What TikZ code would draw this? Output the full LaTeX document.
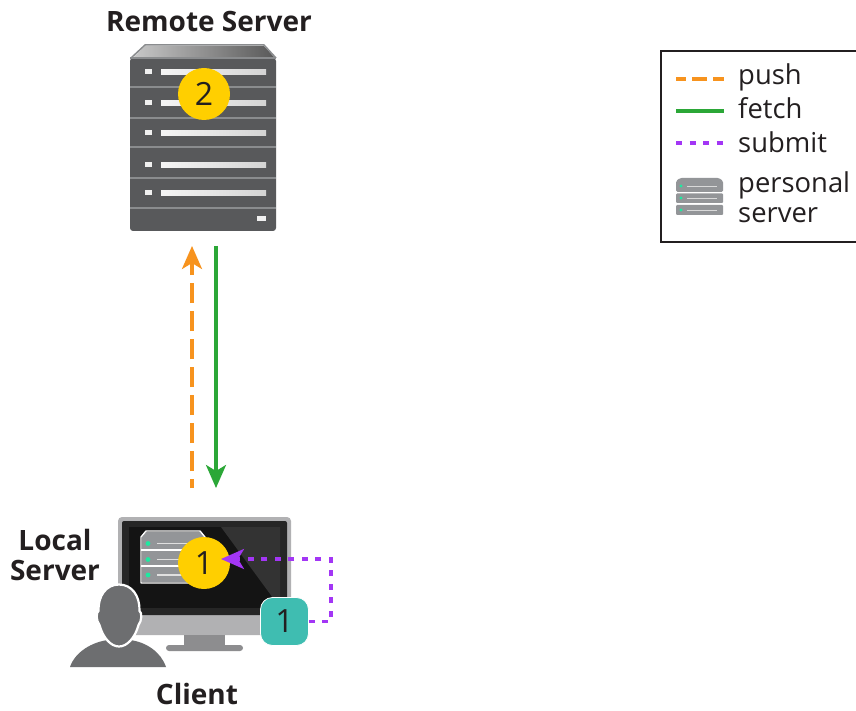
\documentclass[tikz,border=0pt]{standalone}
\usepackage{fontspec}
\setmainfont{Open Sans}
\usepackage{xcolor}
\usetikzlibrary{arrows.meta,shapes.geometric}

\definecolor{inkblack}{HTML}{231F20}
\definecolor{rackgray}{HTML}{58595B}
\definecolor{rackline}{HTML}{8A8C8E}
\definecolor{iconbody}{HTML}{939598}
\definecolor{dotgreen}{HTML}{1FE8A0}
\definecolor{badgeyellow}{HTML}{FFCF00}
\definecolor{boxteal}{HTML}{3FBDB1}
\definecolor{pushorange}{HTML}{F7931E}
\definecolor{fetchgreen}{HTML}{2BA737}
\definecolor{submitpurple}{HTML}{A336F5}
\definecolor{bezelgray}{HTML}{B1B1B3}
\definecolor{standgray}{HTML}{8D8D8F}
\definecolor{persongray}{HTML}{6D6E70}

\tikzset{
  title/.style={font=\fontsize{28}{30}\selectfont\bfseries, text=inkblack, align=center, inner sep=0pt},
  legendtext/.style={font=\fontsize{27.4}{32}\selectfont, text=inkblack, anchor=base west, inner sep=0pt},
  badge/.style={circle, fill=badgeyellow, minimum size=52pt, inner sep=0pt, font=\fontsize{32}{34}\selectfont, text=inkblack},
  tealbox/.style={rectangle, rounded corners=12pt, fill=boxteal, draw=white, line width=0.8pt, minimum size=48pt, inner sep=0pt, font=\fontsize{32}{34}\selectfont, text=inkblack},
  pushline/.style={draw=pushorange, line width=3.2pt, dash pattern=on 20pt off 8pt, dash phase=11pt},
  legendpush/.style={draw=pushorange, line width=3.2pt, dash pattern=on 15pt off 6pt, dash phase=5pt},
  fetchline/.style={draw=fetchgreen, line width=3.2pt},
  submitline/.style={draw=submitpurple, line width=3.2pt, dash pattern=on 6pt off 7.5pt},
  bigtip/.style={-{Stealth[length=23pt, width=20pt, inset=6pt]}}
}

\begin{document}
\begin{tikzpicture}[x=1pt, y=-1pt]
\useasboundingbox (0,0) rectangle (856,711);
\fill[white] (0,0) rectangle (856,711);

% remote server
\shade[left color=white!78!black, right color=black!65] (145,46) -- (264,46) -- (274,57) -- (134,57) -- cycle;
\draw[rackline, line width=1.5pt, line join=round] (131,58) -- (145,45) -- (264,45) -- (276,58);
\fill[rackgray, rounded corners=3pt] (130,58) -- (276,58) -- (276,231) -- (130,231) -- cycle;
\foreach \y in {87,118,147,178,208}
  \fill[rackline] (130,\y-1.2) rectangle (276,\y+1.2);
\fill[rackline] (130,57) rectangle (276,59);
\foreach \y in {72,103,133,165,193} {
  \fill[white!94!black] (145,\y-2.5) rectangle (152,\y+2.5);
  \shade[left color=white!96!black, right color=white!83!black] (161,\y-2.5) rectangle (266,\y+2.5);
}
\fill[white!94!black] (257,216) rectangle (266,221);
\node[title] (remotelabel) at (209,22) {Remote Server};
\node[badge] (remotebadge) at (204,94) {2};

% client
\fill[bezelgray, rounded corners=4pt] (118,517) rectangle (291,635);
\fill[black!85, rounded corners=2pt] (122,521) rectangle (287,615);
\fill[black!92] (129,527) rectangle (280,608);
\fill[black!80] (221,527) -- (280,527) -- (280,608) -- (281,608) -- (273,598) -- cycle;
\fill[standgray] (184,635) rectangle (225,645);
\fill[standgray, rounded corners=3pt] (166,645) rectangle (243,651);

% local server icon
\fill[iconbody] (146,532) -- (200,532) -- (205,537) -- (205,582) -- (142,582) -- (142,537) -- cycle;
\draw[white, line width=1.4pt, line join=round] (146,531) -- (200,531) -- (205,537) -- (205,583) -- (141,583) -- (141,537) -- cycle;
\foreach \y in {550,566}
  \draw[white, line width=1.4pt] (141,\y) -- (205,\y);
\foreach \y in {543.5,559.5,575} {
  \fill[dotgreen] (148,\y) circle (2.4);
  \draw[white!88!black, line width=1.2pt] (157,\y) -- (195,\y);
}
\node[badge] (localbadge) at (204,563) {1};

% person
\fill[persongray] (70,667) .. controls (75,652) and (92,642) .. (108,640) -- (130,640) .. controls (146,642) and (161,652) .. (166,667) -- cycle;
\draw[persongray, fill=persongray, draw=white, line width=2.2pt] (119,584.5) .. controls (132,584.5) and (140,596) .. (139.5,611) .. controls (142,612) and (142,621) .. (138.5,625) .. controls (135,638) and (127,646.5) .. (119,646.5) .. controls (111,646.5) and (103,638) .. (99.5,625) .. controls (96,621) and (96,612) .. (98.5,611) .. controls (98,596) and (106,584.5) .. (119,584.5) -- cycle;

\node[tealbox] (submitbox) at (284.5,621.5) {1};
\node[title] (locallabel) at (55,555) {Local\\Server};
\node[title] (clientlabel) at (197,694) {Client};

% push, fetch and submit
\coordinate (pushtail) at (192,488);
\coordinate (pushhead) at (192,246);
\coordinate (fetchtail) at (216,246);
\coordinate (fetchhead) at (216,488);
\coordinate (submitcorner) at (331,559);
\coordinate (submithead) at (221,559);
\draw[pushline, bigtip] (pushtail) -- (pushhead);
\draw[fetchline, bigtip] (fetchtail) -- (fetchhead);
\draw[submitline, bigtip] (submitbox.east) -| (submitcorner) -- (submithead);

% legend
\draw[inkblack, line width=2.4pt] (857,51) -- (661,51) -- (661,242) -- (857,242);
\foreach \name/\y in {push/79,fetch/111,submit/143} {
  \coordinate (\name a) at (676,\y);
  \coordinate (\name b) at (724,\y);
}
\draw[legendpush] (pusha) -- (pushb);
\draw[fetchline] (fetcha) -- (fetchb);
\draw[submitline] (submita) -- (submitb);
\node[legendtext] (pushtext) at (738,85) {push};
\node[legendtext] (fetchtext) at (738,119) {fetch};
\node[legendtext] (submittext) at (738,153) {submit};
\node[legendtext] (personaltext) at (738,193) {personal};
\node[legendtext] (servertext) at (738,223) {server};

% legend icon
\fill[iconbody, rounded corners=1.5pt] (676,192) -- (676,181) -- (680,178) -- (719,178) -- (723,181) -- (723,192) -- cycle;
\fill[iconbody, rounded corners=1pt] (676,193.5) rectangle (723,203);
\fill[iconbody, rounded corners=1pt] (676,205) rectangle (723,215);
\foreach \y in {186,198,210} {
  \fill[dotgreen] (681,\y) circle (1.6);
  \draw[white!85!black, line width=0.9pt] (687,\y) -- (717,\y);
}
\end{tikzpicture}
\end{document}
